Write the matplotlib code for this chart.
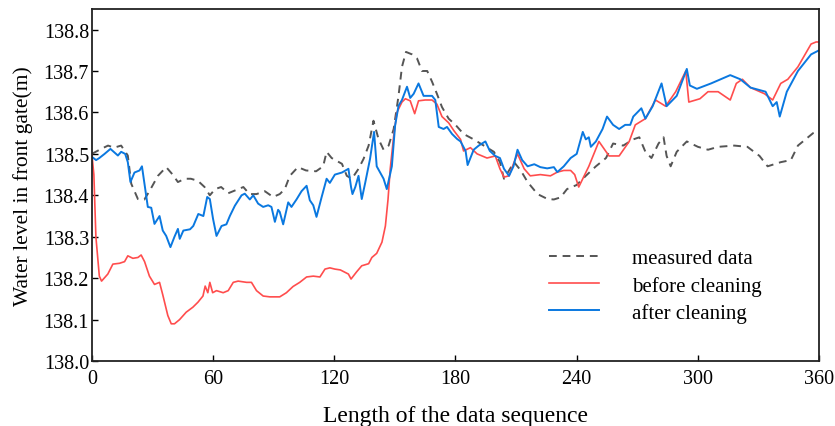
import matplotlib.pyplot as plt
import numpy as np

plt.rcParams['font.family'] = ['Liberation Serif', 'DejaVu Serif']

# measured data (gray dashed)
x_meas = [0, 4.6, 8, 11, 14.5, 17.8, 19.5, 22.8, 26, 28.5, 32.7, 36.8, 40, 42.6, 46, 49, 52.5, 55.8, 58.4,
          61, 64, 67.5, 70, 75, 78, 81.5, 85.6, 89.7, 93, 95.5, 98, 102, 106, 111, 114.5, 116.2, 118.7,
          123.8, 126.2, 128.7, 132, 134.5, 137, 139.4, 141.9, 144.4, 146.9, 149.4, 151.8, 153.5, 155.5,
          158.5, 161, 163.4, 166, 168.4, 170.8, 173.3, 176.6, 180, 184, 189, 194, 199, 202, 204, 209,
          212.3, 215.7, 220.6, 225.6, 228.7, 232, 235.2, 240, 244.5, 249.5, 254.5, 258, 263, 268, 271,
          274, 277, 280.5, 283, 284.5, 286.5, 289.5, 294.5, 300, 305, 310, 318, 324.5, 330.5, 334.5,
          341, 346, 349.5, 357, 360]
y_meas = [138.50, 138.512, 138.52, 138.515, 138.52, 138.496, 138.428, 138.391, 138.39, 138.41, 138.447,
          138.468, 138.45, 138.432, 138.44, 138.44, 138.435, 138.42, 138.40, 138.415, 138.42, 138.405,
          138.41, 138.42, 138.403, 138.403, 138.41, 138.396, 138.403, 138.415, 138.447, 138.468, 138.46,
          138.458, 138.47, 138.505, 138.49, 138.476, 138.447, 138.44, 138.464, 138.488, 138.52, 138.58,
          138.536, 138.51, 138.52, 138.56, 138.64, 138.71, 138.746, 138.74, 138.73, 138.70, 138.70,
          138.674, 138.645, 138.613, 138.585, 138.57, 138.548, 138.535, 138.52, 138.505, 138.48, 138.44,
          138.48, 138.46, 138.432, 138.403, 138.391, 138.39, 138.395, 138.415, 138.425, 138.447, 138.47,
          138.49, 138.525, 138.52, 138.535, 138.54, 138.505, 138.49, 138.525, 138.54, 138.495, 138.47,
          138.505, 138.53, 138.517, 138.51, 138.517, 138.52, 138.517, 138.495, 138.47, 138.48, 138.485,
          138.52, 138.55, 138.555]

# before cleaning (red)
x_before = [0, 1, 2, 3.7, 4.8, 7.9, 10.4, 13.7, 16.2, 17.8, 20.3, 22.8, 24.4, 26.1, 28.5, 31, 33.5, 35.1,
            37.6, 39.3, 40.9, 43.4, 46.7, 50, 52.5, 55, 56.1, 57.4, 58.4, 59.8, 61.7, 65, 67.5, 70, 72.4,
            76.6, 79, 81.5, 84.8, 88.1, 93, 96.3, 99.6, 102.9, 106.3, 109.6, 112.9, 115.4, 117.8, 120.3,
            123, 127, 128.3, 131, 133.6, 137, 138.6, 141, 143.6, 145.3, 146.6, 147.7, 149.4, 151, 153.5,
            155.2, 157.6, 159.8, 161.7, 165, 168.4, 170.8, 173.3, 176.6, 179.2, 182.5, 184, 187.4, 190.7,
            195.6, 199.7, 202, 204, 206.5, 209, 210.7, 214, 217, 222, 227, 230.4, 233.6, 237, 239, 241,
            246, 251, 256, 261, 266, 269, 274, 279, 284, 289, 294, 295.5, 301, 305, 310, 316, 319, 322,
            326, 333, 337, 341, 344.5, 349.5, 356, 358.5, 360]
y_before = [138.50, 138.45, 138.30, 138.205, 138.193, 138.21, 138.234, 138.236, 138.24, 138.254, 138.248,
            138.25, 138.256, 138.24, 138.205, 138.185, 138.19, 138.16, 138.11, 138.09, 138.09, 138.10,
            138.118, 138.13, 138.142, 138.157, 138.181, 138.165, 138.19, 138.165, 138.17, 138.165, 138.17,
            138.19, 138.193, 138.19, 138.19, 138.17, 138.157, 138.155, 138.155, 138.165, 138.18, 138.19,
            138.203, 138.205, 138.203, 138.222, 138.225, 138.222, 138.22, 138.21, 138.198, 138.215, 138.23,
            138.235, 138.25, 138.26, 138.287, 138.326, 138.39, 138.464, 138.543, 138.60, 138.625, 138.633,
            138.628, 138.597, 138.628, 138.63, 138.63, 138.62, 138.59, 138.575, 138.556, 138.535, 138.507,
            138.515, 138.50, 138.49, 138.495, 138.464, 138.444, 138.447, 138.48, 138.50, 138.464, 138.447,
            138.45, 138.447, 138.456, 138.46, 138.46, 138.45, 138.42, 138.47, 138.53, 138.495, 138.495,
            138.53, 138.57, 138.585, 138.63, 138.615, 138.65, 138.70, 138.625, 138.633, 138.65, 138.65,
            138.63, 138.67, 138.68, 138.66, 138.645, 138.63, 138.67, 138.68, 138.71, 138.765, 138.77,
            138.77]

# after cleaning (blue)
x_after = [0, 2.1, 3.7, 6.3, 9.2, 12.9, 14.5, 16.5, 17.8, 19.1, 21.1, 23.6, 24.8, 26.4, 27.7, 29.4, 31,
           33.5, 35.1, 36.8, 38.9, 40.9, 42.6, 43.5, 45.3, 48.6, 50.2, 52.7, 55.2, 57.1, 58.4, 60, 61.7,
           64.2, 66.6, 68.3, 70.8, 74.1, 75.7, 78.2, 79.9, 82.3, 84.8, 87.3, 88.9, 90.6, 92.2, 93, 94.7,
           97.2, 98.8, 101.3, 103.8, 106.3, 107.9, 109.6, 111.2, 113.7, 116.2, 117.8, 120.3, 123.8, 127,
           128.3, 129, 130.4, 132, 133.6, 135.3, 137.7, 139.7, 141, 142.7, 144.4, 146, 148.5, 150.1,
           151.8, 153.5, 156, 157.6, 159.3, 161.7, 164.2, 166.7, 168.4, 170, 171.7, 174.1, 175.8, 178.3,
           180.8, 182.5, 185, 186, 189, 191.5, 194.8, 197, 199.7, 202, 204, 206.5, 208.7, 210.7, 213,
           215.7, 219, 222, 225.4, 228.7, 230.4, 233.6, 237, 240, 243, 244.5, 246, 247, 249.5, 252.8,
           255, 258, 261, 264, 266.5, 268, 272, 274, 277.6, 282, 284.5, 289.5, 294.5, 296, 299.5, 306.5,
           316, 321, 326, 333.5, 337, 339, 340.5, 344, 349.5, 356, 360]
y_after = [138.493, 138.485, 138.49, 138.50, 138.512, 138.496, 138.505, 138.50, 138.48, 138.432, 138.455,
           138.46, 138.47, 138.415, 138.372, 138.37, 138.331, 138.35, 138.315, 138.302, 138.275, 138.30,
           138.319, 138.295, 138.315, 138.318, 138.326, 138.355, 138.35, 138.396, 138.391, 138.343,
           138.302, 138.326, 138.33, 138.35, 138.375, 138.40, 138.404, 138.39, 138.40, 138.38, 138.372,
           138.376, 138.372, 138.336, 138.365, 138.36, 138.33, 138.383, 138.372, 138.39, 138.41, 138.423,
           138.388, 138.376, 138.348, 138.395, 138.44, 138.43, 138.45, 138.455, 138.464, 138.42, 138.403,
           138.42, 138.447, 138.391, 138.43, 138.488, 138.553, 138.47, 138.455, 138.44, 138.415, 138.47,
           138.568, 138.616, 138.63, 138.662, 138.635, 138.645, 138.67, 138.64, 138.64, 138.64, 138.63,
           138.565, 138.56, 138.565, 138.548, 138.536, 138.53, 138.507, 138.473, 138.51, 138.52, 138.53,
           138.507, 138.495, 138.49, 138.464, 138.447, 138.47, 138.51, 138.485, 138.47, 138.475, 138.468,
           138.465, 138.468, 138.456, 138.47, 138.49, 138.50, 138.553, 138.535, 138.54, 138.517, 138.53,
           138.56, 138.59, 138.57, 138.56, 138.57, 138.57, 138.59, 138.61, 138.585, 138.615, 138.67,
           138.615, 138.64, 138.705, 138.665, 138.657, 138.67, 138.69, 138.68, 138.66, 138.65, 138.615,
           138.625, 138.59, 138.65, 138.70, 138.74, 138.75]

fig = plt.figure(figsize=(8.35, 4.27), dpi=100)
ax = fig.add_axes([0.110, 0.152, 0.871, 0.825])

ax.plot(x_meas, y_meas, color='#555555', lw=1.4, dashes=(4, 3), label='measured data')
ax.plot(x_before, y_before, color='#ff4d4d', lw=1.2, label='before cleaning')
ax.plot(x_after, y_after, color='#0a78e0', lw=1.4, label='after cleaning')

ax.set_xlim(0, 360)
ax.set_ylim(138.0, 138.85)
ax.set_xticks(np.arange(0, 361, 60))
ax.set_yticks(np.arange(138.0, 138.81, 0.1))
ax.set_yticklabels(['%.1f' % v for v in np.arange(138.0, 138.81, 0.1)])
ax.tick_params(direction='in', length=4, width=1, labelsize=14.5, pad=2)
ax.tick_params(axis='x', pad=6)
for s in ax.spines.values():
    s.set_linewidth(1.3)
    s.set_color('#222222')

ax.set_xlabel('Length of the data sequence', fontsize=17, labelpad=12)
ax.set_ylabel('Water level in front gate(m)', fontsize=15.5, labelpad=8)

ax.legend(loc='upper left', bbox_to_anchor=(0.603, 0.372), frameon=False, fontsize=15,
          handlelength=2.4, handletextpad=1.6, labelspacing=0.35)

plt.savefig('out.png', dpi=100)
